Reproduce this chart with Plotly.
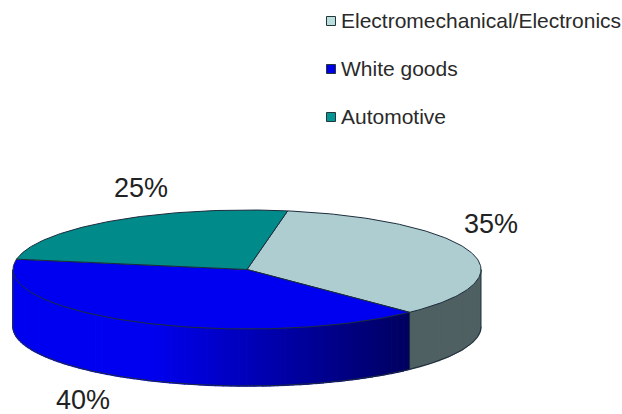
import numpy as np
import plotly.graph_objects as go

categories = ["Electromechanical/Electronics", "White goods", "Automotive"]
shares = [35, 40, 25]
top_colors = ["#aecdd0", "#0000f0", "#008a8a"]
legend_colors = ["#b9dedd", "#0000e8", "#049494"]
label_texts = ["35%", "40%", "25%"]

W, H = 622, 414
CX, CY, RX, RY, DEPTH = 247, 269.5, 234, 59.5, 57
START = 10.0
EDGE = "#1c2c3c"
FONT = "Liberation Sans, Arial, sans-serif"


def ell(a, dy=0.0):
    r = np.radians(a)
    return CX + RX * np.sin(r), CY - RY * np.cos(r) + dy


fig = go.Figure()
angles = np.cumsum([0] + shares) / sum(shares) * 360 + START


def wall(a0, a1, color_fn, n):
    edges = np.linspace(a0, a1, n + 1)
    for p, q in zip(edges[:-1], edges[1:]):
        arc = np.linspace(p, q, 4)
        x, y = ell(arc)
        xb, yb = ell(arc[::-1], DEPTH)
        col = color_fn(float(ell((p + q) / 2)[0]))
        fig.add_trace(go.Scatter(x=list(x) + list(xb), y=list(y) + list(yb), mode="lines",
                                 fill="toself", fillcolor=col, line=dict(color=col, width=1.5),
                                 hoverinfo="skip", showlegend=False))


def blue_shade(x):
    t = np.clip((x - 150) / (410 - 150), 0, 1)
    return f"rgb(0,0,{int(round(240 - t * 145))})"


# visible side wall (front half only)
wall(90, angles[1], lambda x: "#4f6062", 4)
wall(angles[1], 270, blue_shade, 70)

# wall outlines
a_front = np.linspace(90, 270, 200)
xf, yf = ell(a_front, DEPTH)
fig.add_trace(go.Scatter(x=xf, y=yf, mode="lines", line=dict(color=EDGE, width=1),
                         hoverinfo="skip", showlegend=False))
for a in (angles[1], 90, 270):
    xa0, ya0 = ell(a)
    xa1, ya1 = ell(a, DEPTH)
    fig.add_trace(go.Scatter(x=[xa0, xa1], y=[ya0, ya1], mode="lines",
                             line=dict(color=EDGE, width=1), hoverinfo="skip", showlegend=False))

# top faces
for i, c in enumerate(top_colors):
    arc = np.linspace(angles[i], angles[i + 1], 120)
    x, y = ell(arc)
    fig.add_trace(go.Scatter(x=[CX] + list(x) + [CX], y=[CY] + list(y) + [CY], mode="lines",
                             fill="toself", fillcolor=c, line=dict(color=EDGE, width=1),
                             name=categories[i], hoverinfo="skip", showlegend=False))

# legend, drawn in the plot so its swatches sit close to their texts
LEG_X, LEG_Y, LEG_STEP, LEG_GAP = 331, 20, 48, 8
for i, (name, c) in enumerate(zip(categories, legend_colors)):
    ly = LEG_Y + i * LEG_STEP
    fig.add_trace(go.Scatter(x=[LEG_X], y=[ly + 1], mode="markers", name=name, showlegend=False,
                             hoverinfo="skip",
                             marker=dict(symbol="square", size=9, color=c,
                                         line=dict(color="#243838", width=1))))
    fig.add_annotation(x=LEG_X + LEG_GAP, y=ly, text=name, showarrow=False, xanchor="left",
                       xref="x", yref="y", font=dict(family=FONT, size=21, color="#2a2a2a"))

LABEL_POS = [(491, 224), (83, 400), (141, 188)]
for t, (lx, ly) in zip(label_texts, LABEL_POS):
    fig.add_annotation(x=lx, y=ly, text=t, showarrow=False, xref="x", yref="y",
                       font=dict(family=FONT, size=27, color="#222222"))

fig.update_layout(
    width=W, height=H, margin=dict(l=0, r=0, t=0, b=0),
    paper_bgcolor="white", plot_bgcolor="white", showlegend=False,
    xaxis=dict(range=[0, W], visible=False, fixedrange=True),
    yaxis=dict(range=[H, 0], visible=False, fixedrange=True),
)
fig.write_html("out.html", config={"displayModeBar": False},
               post_script="document.body.style.margin='0';document.documentElement.style.overflow='hidden';")
